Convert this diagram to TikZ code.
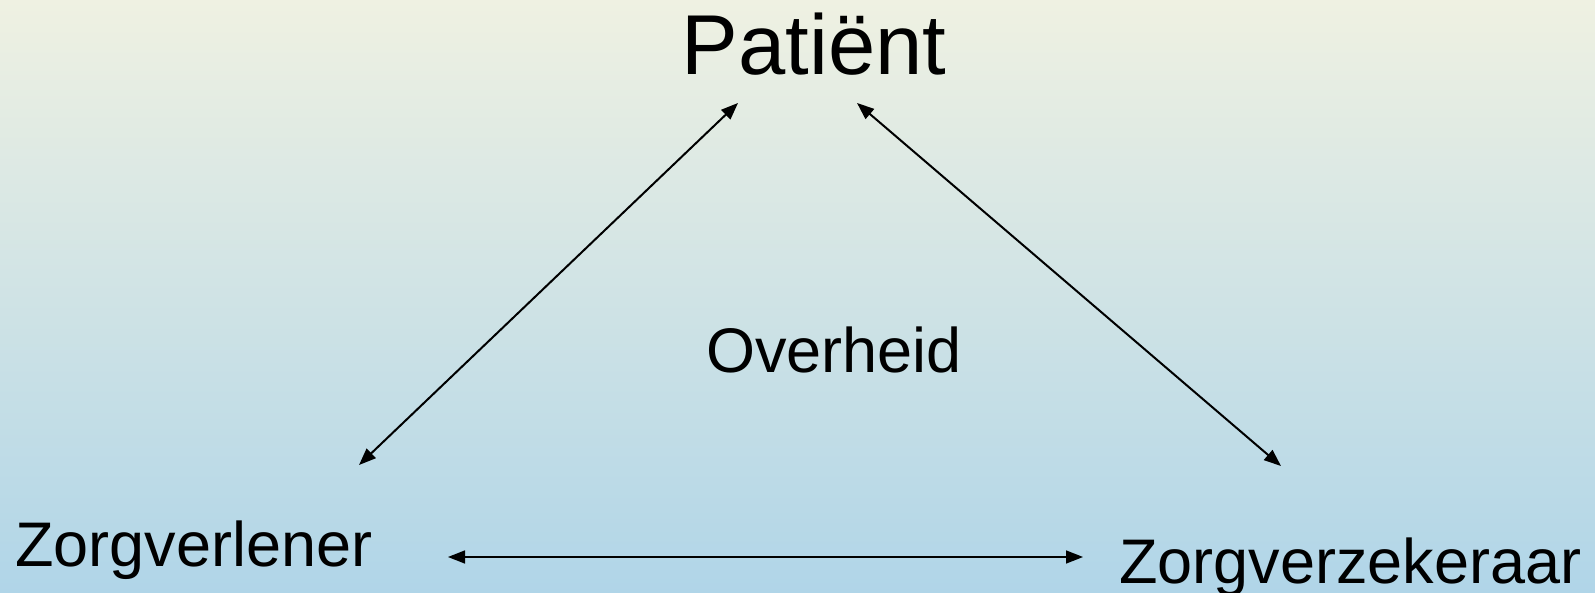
\documentclass[tikz,border=0pt]{standalone}
\usepackage{fontspec}
\setmainfont{Liberation Sans}
\usetikzlibrary{arrows.meta}
\definecolor{bgtop}{HTML}{EFF1E2}
\definecolor{bgmid}{HTML}{D6E6EC}
\definecolor{bgbot}{HTML}{B0D5E8}
\tikzset{
  lbl/.style={inner sep=0pt, font=\fontsize{63}{70}\selectfont},
  conn/.style={{Triangle[length=17pt,width=13pt]}-{Triangle[length=17pt,width=13pt]}, line width=2pt, black},
}
\begin{document}
\begin{tikzpicture}[x=1pt,y=-1pt]
\useasboundingbox (0,0) rectangle (1595,593);
\shade[top color=bgtop, middle color=bgmid, bottom color=bgbot] (0,0) rectangle (1595,593);
\node[lbl, anchor=base, font=\fontsize{85}{90}\selectfont] (pat) at (814,75) {Patiënt};
\node[lbl, anchor=base] (ovh) at (834,372) {Overheid};
\node[lbl, anchor=base west] (zv) at (15,566) {Zorgverlener};
\node[lbl, anchor=base west] (zz) at (1119,583) {Zorgverzekeraar};
\coordinate (pl) at (738,103);
\coordinate (pr) at (857,103);
\coordinate (zvu) at (359,465);
\coordinate (zzu) at (1281,466);
\coordinate (zvr) at (448,557);
\coordinate (zzl) at (1083,557);
\draw[conn] (zvu) -- (pl);
\draw[conn] (zzu) -- (pr);
\draw[conn, line width=1.6pt] (zvr) -- (zzl);
\end{tikzpicture}
\end{document}
